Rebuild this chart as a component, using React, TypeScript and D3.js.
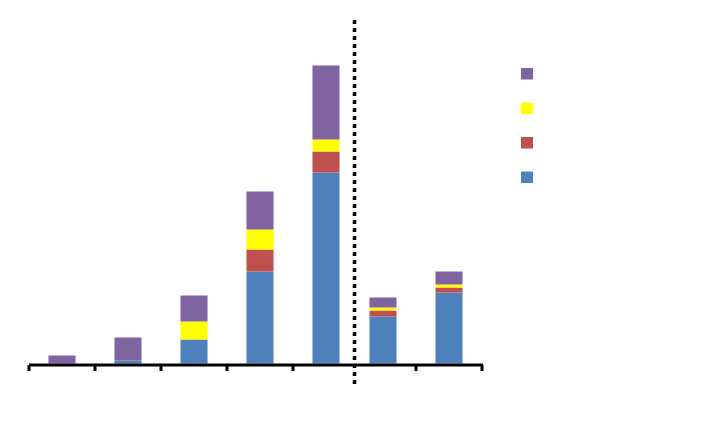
import { scaleBand, scaleLinear, scaleOrdinal, stack } from 'd3';

// Stacked columns with an unlabelled axis, split by a dotted divider after the fifth group.
const categories = ['1', '2', '3', '4', '5', '6', '7'];
const seriesNames = ['A', 'B', 'C', 'D'];
const seriesA = [0, 3, 24, 92, 191, 47, 71];
const seriesB = [0, 0, 0, 22, 21, 6, 5];
const seriesC = [0, 0, 18, 20, 12, 3, 3];
const seriesD = [8, 23, 26, 38, 74, 10, 13];
const colors = ['#4F81BD', '#C0504D', '#FFFF00', '#8064A2'];
const splitAt = 5;

type Row = { cat: string; A: number; B: number; C: number; D: number };
const rows: Row[] = categories.map((cat, i) => ({
  cat,
  A: seriesA[i],
  B: seriesB[i],
  C: seriesC[i],
  D: seriesD[i],
}));

export default function App() {
  const width = 727;
  const height = 437;
  const base = 363.5;
  const left = categories.slice(0, splitAt);
  const right = categories.slice(splitAt);
  // two band scales: the axis is compressed at the divider
  const xl = scaleBand<string>().domain(left).range([29, 359]).paddingInner(0.59).paddingOuter(0.295);
  const xr = scaleBand<string>().domain(right).range([350, 482]).paddingInner(0.59).paddingOuter(0.295);
  const x = (c: string) => (left.includes(c) ? xl(c)! : xr(c)!);
  const bw = xl.bandwidth();
  const y = scaleLinear().domain([0, 300]).range([base, base - 300]);
  const color = scaleOrdinal<string, string>().domain(seriesNames).range(colors);
  const layers = stack<Row>().keys(seriesNames)(rows);

  // band boundaries, leaving out the one hidden under the divider
  const ticks = [
    ...left.map((_c, i) => xl.range()[0] + i * xl.step()),
    ...right.map((_c, i) => xr.range()[0] + (i + 1) * xr.step()),
  ];
  const divX = 354.5;

  const legend = [...seriesNames].reverse();

  return (
    <svg width={width} height={height} style={{ position: 'absolute', left: 0, top: 0, background: '#fff' }}>
      {layers.map((layer) => (
        <g key={layer.key} fill={color(layer.key)}>
          {layer.map((d, i) =>
            d[1] - d[0] > 0 ? (
              <rect key={i} x={x(d.data.cat)} width={bw} y={y(d[1])} height={y(d[0]) - y(d[1])} />
            ) : null,
          )}
        </g>
      ))}
      <line x1={29} x2={483} y1={365} y2={365} stroke="#000" strokeWidth={3} />
      {ticks.map((t, i) => (
        <line key={i} x1={t} x2={t} y1={365} y2={371} stroke="#000" strokeWidth={3} />
      ))}
      <line x1={divX} x2={divX} y1={20} y2={384} stroke="#000" strokeWidth={3.5} strokeDasharray="4 4" />
      {legend.map((k, i) => (
        <rect key={k} x={521} y={68 + i * 34.5} width={12} height={11.5} fill={color(k)} />
      ))}
    </svg>
  );
}
